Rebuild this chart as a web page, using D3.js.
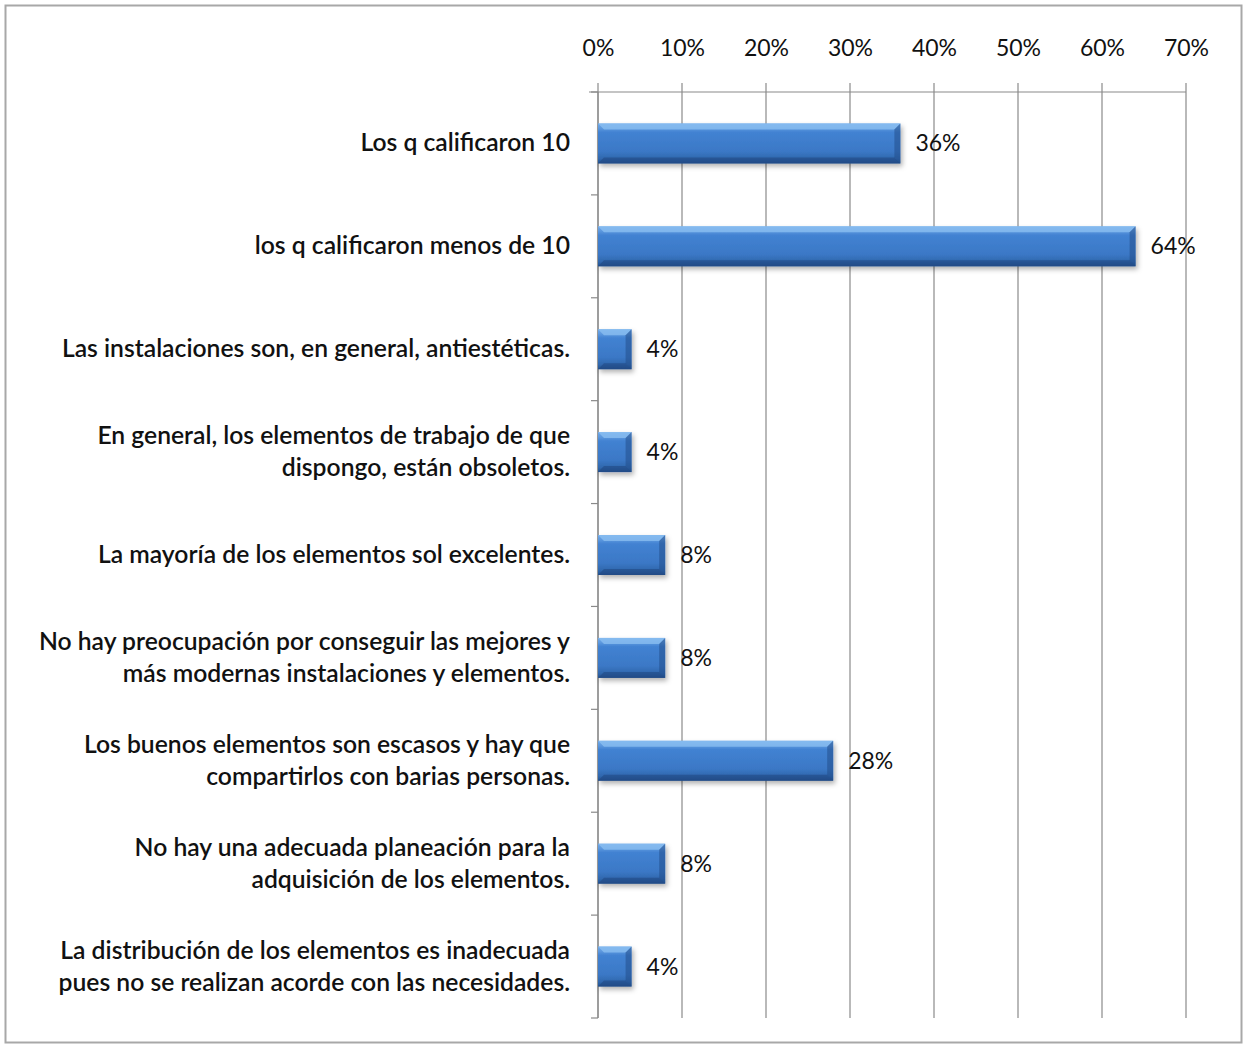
<!DOCTYPE html>
<html><head><meta charset="utf-8">
<script src="https://cdn.jsdelivr.net/npm/d3@7"></script>
<style>body{margin:0;background:#fff}svg{display:block}</style>
</head><body>
<script>
const categories = [
  ["Los q calificaron 10"],
  ["los q calificaron menos de 10"],
  ["Las instalaciones son, en general, antiestéticas."],
  ["En general, los elementos de trabajo de que", "dispongo, están obsoletos."],
  ["La mayoría de los elementos sol excelentes."],
  ["No hay preocupación por conseguir las mejores y", "más modernas instalaciones y elementos."],
  ["Los buenos elementos son escasos y hay que", "compartirlos con barias personas."],
  ["No hay una adecuada planeación para la", "adquisición de los elementos."],
  ["La distribución de los elementos es inadecuada", "pues no se realizan acorde con las necesidades."]
];
const values = [0.36, 0.64, 0.04, 0.04, 0.08, 0.08, 0.28, 0.08, 0.04];
const valueLabels = ["36%", "64%", "4%", "4%", "8%", "8%", "28%", "8%", "4%"];
const tickValues = [0, 0.1, 0.2, 0.3, 0.4, 0.5, 0.6, 0.7];

const W = 1244, H = 1045;
const m = {left: 598, right: 58, top: 92, bottom: 27};
const svg = d3.select("body").append("svg").attr("width", W).attr("height", H);
const font = "Lato, 'Open Sans', sans-serif";

// outer frame
svg.append("rect").attr("x", 5.5).attr("y", 5.5).attr("width", W - 8).attr("height", H - 8)
  .attr("fill", "none").attr("stroke", "#a8a8a8").attr("stroke-width", 2);

const x = d3.scaleLinear().domain([0, 0.7]).range([m.left, W - m.right]);
const y = d3.scaleBand().domain(d3.range(categories.length)).range([m.top, H - m.bottom]);

// gradients
const defs = svg.append("defs");
const g1 = defs.append("linearGradient").attr("id", "barg").attr("x1", 0).attr("y1", 0).attr("x2", 0).attr("y2", 1);
[[0, "#6fa8e8"], [0.12, "#5c98de"], [0.22, "#4282d2"], [0.7, "#3b78c6"], [0.88, "#3068ae"], [1, "#25528e"]]
  .forEach(([o, c]) => g1.append("stop").attr("offset", o).attr("stop-color", c));
const flt = defs.append("filter").attr("id", "sh").attr("x", "-10%").attr("y", "-20%").attr("width", "130%").attr("height", "160%");
flt.append("feDropShadow").attr("dx", 2).attr("dy", 3).attr("stdDeviation", 2.5).attr("flood-color", "#000").attr("flood-opacity", 0.3);

// gridlines
svg.append("g").selectAll("line").data(tickValues).join("line")
  .attr("x1", d => x(d)).attr("x2", d => x(d))
  .attr("y1", m.top - 9).attr("y2", H - m.bottom)
  .attr("stroke", "#8a8a8a").attr("stroke-width", 1.2);

// top axis
const xAxis = d3.axisTop(x).tickValues(tickValues).tickFormat(d3.format(".0%")).tickSize(0).tickPadding(36);
const gx = svg.append("g").attr("transform", `translate(0,${m.top})`).call(xAxis);
gx.select(".domain").attr("stroke", "#8a8a8a").attr("stroke-width", 1.2)
  .attr("d", `M${m.left - 9},0H${x(0.7)}`);
gx.selectAll("text").attr("font-family", font).attr("font-size", 23).attr("fill", "#111");

// left axis
const yAxis = d3.axisLeft(y).tickValues([]).tickSize(0);
const gy = svg.append("g").attr("transform", `translate(${m.left},0)`).call(yAxis);
gy.select(".domain").attr("stroke", "#8a8a8a").attr("stroke-width", 1.2)
  .attr("d", `M0,${m.top}V${H - m.bottom}`);
// category boundary ticks
svg.append("g").selectAll("line").data(d3.range(categories.length + 1)).join("line")
  .attr("x1", m.left - 7).attr("x2", m.left)
  .attr("y1", i => m.top + i * y.step()).attr("y2", i => m.top + i * y.step())
  .attr("stroke", "#8a8a8a").attr("stroke-width", 1.2);

// bars
const bh = 40;
const bars = svg.append("g").selectAll("g").data(values).join("g")
  .attr("transform", (d, i) => `translate(${x(0)},${y(i) + y.bandwidth() / 2 - bh / 2})`);
bars.append("rect").attr("width", d => x(d) - x(0)).attr("height", bh)
  .attr("fill", "url(#barg)").attr("filter", "url(#sh)");
// bevel highlights
bars.append("path").attr("fill", "#8cc0f2").attr("opacity", 0.75)
  .attr("d", d => { const w = x(d) - x(0); return `M0,0H${w}L${w - 6},6H6Z`; });
bars.append("path").attr("fill", "#1f4a86").attr("opacity", 0.5)
  .attr("d", d => { const w = x(d) - x(0); return `M${w},0V${bh}L${w - 6},${bh - 6}V6Z`; });
bars.append("path").attr("fill", "#1f4680").attr("opacity", 0.55)
  .attr("d", d => { const w = x(d) - x(0); return `M0,${bh}H${w}L${w - 6},${bh - 6}H6Z`; });

// value labels
svg.append("g").selectAll("text").data(values).join("text")
  .attr("x", d => x(d) + 15).attr("y", (d, i) => y(i) + y.bandwidth() / 2 + 8)
  .attr("font-family", font).attr("font-size", 23).attr("fill", "#111")
  .text((d, i) => valueLabels[i]);

// category labels
const lab = svg.append("g").selectAll("text").data(categories).join("text")
  .attr("text-anchor", "end").attr("font-family", font).attr("font-size", 24.7)
  .attr("font-weight", 600).attr("fill", "#111")
  .attr("transform", (d, i) => `translate(570,${y(i) + y.bandwidth() / 2})`);
lab.each(function(lines) {
  const t = d3.select(this);
  const n = lines.length;
  lines.forEach((s, k) => {
    t.append("tspan").attr("x", 0).attr("y", (k - (n - 1) / 2) * 32 + 8).text(s);
  });
});
</script>
</body></html>
